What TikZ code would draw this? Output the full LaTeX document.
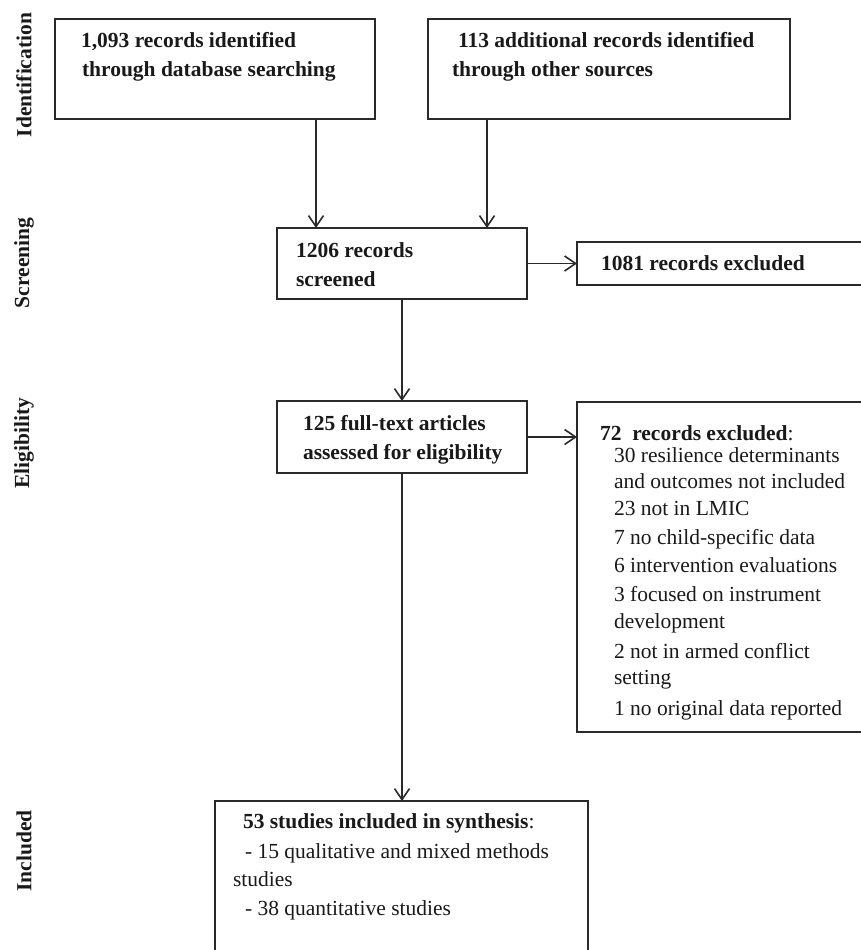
\documentclass[tikz,border=0pt]{standalone}
\usepackage{fontspec}
\setmainfont{Liberation Serif}
\usetikzlibrary{arrows.meta,calc}
\definecolor{linegray}{HTML}{2A2A2A}
\begin{document}
\begin{tikzpicture}[x=1pt,y=-1pt,
  box/.style={draw=linegray,line width=1.6pt,rectangle,inner sep=0pt,outer sep=0pt},
  txt/.style={inner sep=0pt,outer sep=0pt,anchor=base west,text=black!90,font=\fontsize{21.5}{28}\selectfont},
  side/.style={inner sep=0pt,text=black!90,font=\fontsize{21.5}{28}\selectfont\bfseries,rotate=90},
  arr/.style={draw=linegray,line width=1.6pt,-{Straight Barb[length=11pt,width=15pt]}}]
\useasboundingbox (0,0) rectangle (861,950);
\clip (0,0) rectangle (861,950);
% side labels
\node[side] (lid) at (24,75) {Identification};
\node[side] (lsc) at (24,263) {Screening};
\node[side] (lel) at (24,443) {Eligibility};
\node[side] (lin) at (24,851) {Included};
% boxes
\node[box,minimum width=320pt,minimum height=100pt] (b1) at (215,69) {};
\node[box,minimum width=362pt,minimum height=100pt] (b2) at (609,69) {};
\node[box,minimum width=250pt,minimum height=71pt] (b3) at (402,263.5) {};
\node[box,minimum width=303pt,minimum height=43pt] (b4) at (728.5,263.5) {};
\node[box,minimum width=250pt,minimum height=72pt] (b5) at (402,437) {};
\node[box,minimum width=303pt,minimum height=330pt] (b6) at (728.5,567) {};
\node[box,minimum width=373pt,minimum height=170pt] (b7) at (401.5,886) {};
% texts
\node[txt] (t1a) at (81,48) {\textbf{1,093 records identified}};
\node[txt] (t1b) at (82,77) {\textbf{through database searching}};
\node[txt] (t2a) at (458,48) {\textbf{113 additional records identified}};
\node[txt] (t2b) at (452,77) {\textbf{through other sources}};
\node[txt] (t3a) at (296,257) {\textbf{1206 records}};
\node[txt] (t3b) at (296,286) {\textbf{screened}};
\node[txt] (t4) at (601,270) {\textbf{1081 records excluded}};
\node[txt] (t5a) at (303,430) {\textbf{125 full-text articles}};
\node[txt] (t5b) at (303,459) {\textbf{assessed for eligibility}};
\node[txt] (t6a) at (600,440) {\textbf{72\ \ records excluded}:};
\node[txt] (t6b) at (614,462) {30 resilience determinants};
\node[txt] (t6c) at (614,488) {and outcomes not included};
\node[txt] (t6d) at (614,515) {23 not in LMIC};
\node[txt] (t6e) at (614,544) {7 no child-specific data};
\node[txt] (t6f) at (614,572) {6 intervention evaluations};
\node[txt] (t6g) at (614,601) {3 focused on instrument};
\node[txt] (t6h) at (614,628) {development};
\node[txt] (t6i) at (614,658) {2 not in armed conflict};
\node[txt] (t6j) at (614,684) {setting};
\node[txt] (t6k) at (614,715) {1 no original data reported};
\node[txt] (t7a) at (243,828) {\textbf{53 studies included in synthesis}:};
\node[txt] (t7b) at (245,858) {- 15 qualitative and mixed methods};
\node[txt] (t7c) at (233,886) {studies};
\node[txt] (t7d) at (245,915) {- 38 quantitative studies};
% connectors
\draw[arr] ([xshift=101pt]b1.south) -- ([xshift=101pt]b1.south |- b3.north);
\draw[arr] ([xshift=-122pt]b2.south) -- ([xshift=-122pt]b2.south |- b3.north);
\draw[arr] (b3.east) -- (b3.east -| b4.west);
\draw[arr] (b3.south) -- (b5.north);
\draw[arr] (b5.east) -- (b5.east -| b6.west);
\draw[arr] (b5.south) -- (b5.south |- b7.north);
\end{tikzpicture}
\end{document}
